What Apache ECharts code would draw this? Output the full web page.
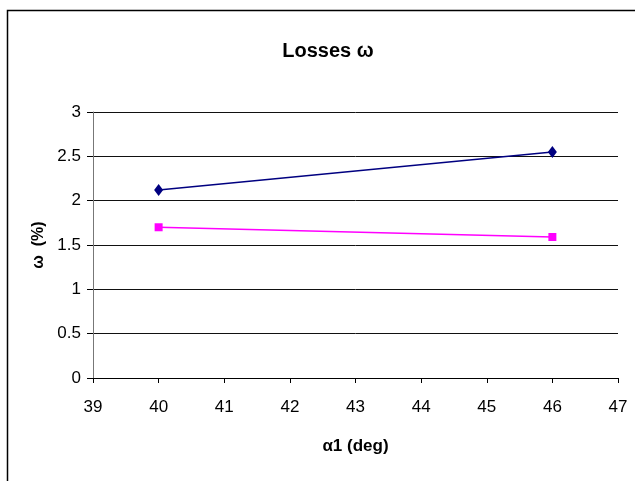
<!DOCTYPE html>
<html>
<head>
<meta charset="utf-8">
<script src="https://cdn.jsdelivr.net/npm/echarts@6/dist/echarts.min.js"></script>
<style>
  html, body { margin: 0; padding: 0; background: #fff; }
  #chart { width: 635px; height: 481px; }
</style>
</head>
<body>
<div id="chart"></div>
<script>
// Loss measurements at two inlet angles
const anglesDeg = [40, 46];
const seriesA = [2.12, 2.55];
const seriesB = [1.70, 1.59];

const xTicks = { min: 39, max: 47, step: 1 };
const yTicks = { min: 0, max: 3, step: 0.5 };

const chart = echarts.init(document.getElementById('chart'), null, { renderer: 'canvas' });
const font = 'Liberation Sans, Arial, sans-serif';

chart.setOption({
  backgroundColor: '#fff',
  animation: false,
  title: {
    text: 'Losses ω',
    left: 323, top: 36, textAlign: 'center',
    textStyle: { fontFamily: font, fontSize: 20, fontWeight: 'bold', color: '#000' }
  },
  graphic: [{
    type: 'rect', silent: true,
    shape: { x: 7.5, y: 10.5, width: 700, height: 600 },
    style: { fill: 'none', stroke: '#000', lineWidth: 1.5 }
  }],
  grid: { left: 93, right: 17, top: 112, bottom: 103 },
  xAxis: {
    type: 'value', min: xTicks.min, max: xTicks.max, interval: xTicks.step,
    name: 'α1 (deg)', nameLocation: 'middle', nameGap: 60,
    nameTextStyle: { fontFamily: font, fontSize: 17, fontWeight: 'bold', color: '#000' },
    axisLine: { show: true, lineStyle: { color: '#000', width: 1 } },
    axisTick: { show: true, inside: false, length: 5, lineStyle: { color: '#000' } },
    axisLabel: { fontFamily: font, fontSize: 17, color: '#000', margin: 21 },
    splitLine: { show: false }
  },
  yAxis: {
    type: 'value', min: yTicks.min, max: yTicks.max, interval: yTicks.step,
    name: 'ω  (%)', nameLocation: 'middle', nameGap: 44, nameRotate: 90,
    nameTextStyle: { fontFamily: font, fontSize: 16, fontWeight: 'bold', color: '#000' },
    axisLine: { show: true, lineStyle: { color: '#777', width: 1 } },
    axisTick: { show: true, inside: false, length: 6, lineStyle: { color: '#000' } },
    axisLabel: { fontFamily: font, fontSize: 17, color: '#000', margin: 12 },
    splitLine: { show: true, lineStyle: { color: '#111', width: 1 } }
  },
  series: [
    {
      type: 'line',
      data: anglesDeg.map((x, i) => [x, seriesA[i]]),
      symbol: 'diamond', symbolSize: [9, 12],
      lineStyle: { color: '#000080', width: 1.5 },
      itemStyle: { color: '#000080' }
    },
    {
      type: 'line',
      data: anglesDeg.map((x, i) => [x, seriesB[i]]),
      symbol: 'rect', symbolSize: 8,
      lineStyle: { color: '#ff00ff', width: 1.5 },
      itemStyle: { color: '#ff00ff' }
    }
  ]
});
</script>
</body>
</html>
